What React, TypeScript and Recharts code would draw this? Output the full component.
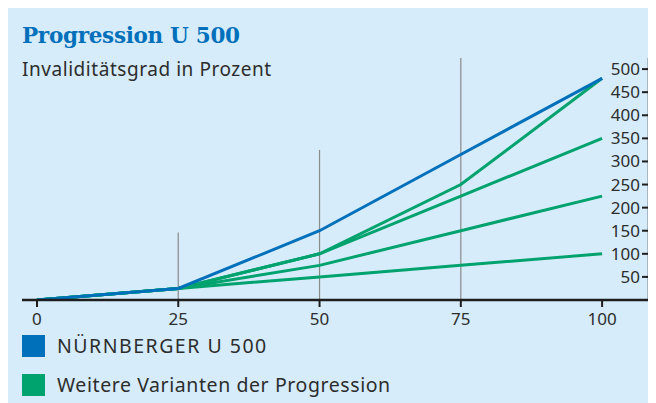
import React, { useLayoutEffect } from 'react';
import { LineChart, Line, XAxis, YAxis, ReferenceLine } from 'recharts';

// Invaliditätsgrad (x) categories
const xValues = [0, 25, 50, 75, 100];
// Series values
const nuernbergerU500 = [0, 25, 150, 315, 480];
const variante1 = [0, 25, 100, 250, 480];
const variante2 = [0, 25, 100, 225, 350];
const variante3 = [0, 25, 75, 150, 225];
const variante4 = [0, 25, 50, 75, 100];
// Axis ticks
const yTicks = [50, 100, 150, 200, 250, 300, 350, 400, 450, 500];
const xDomain: [number, number] = [-2.65, 108.3];
const yDomain: [number, number] = [0, 524];
// Vertical guide lines (x position, height)
const guideX = [25, 50, 75];
const guideTop = [146, 325, 524];

const BLUE = '#0070bb';
const GREEN = '#00a36e';
const TEXT = '#2d2d2d';
const FONT = '"Noto Sans", "Open Sans", sans-serif';

const data = xValues.map((x, i) => ({
  x,
  nu: nuernbergerU500[i],
  v1: variante1[i],
  v2: variante2[i],
  v3: variante3[i],
  v4: variante4[i],
}));

export default function App() {
  useLayoutEffect(() => {
    document.documentElement.style.overflow = 'hidden';
    document.body.style.overflow = 'hidden';
  }, []);

  const xTicks = [...xValues, xDomain[1]];

  return (
    <div style={{ position: 'relative', width: 648, height: 395, background: '#d6ecfa', fontFamily: FONT }}>
      <div style={{ position: 'absolute', left: 14, top: 14, fontFamily: '"DejaVu Serif", serif', fontWeight: 'bold', fontSize: 21.5, color: BLUE, lineHeight: '28px', letterSpacing: -0.3 }}>
        Progression U 500
      </div>
      <div style={{ position: 'absolute', left: 14, top: 48, fontSize: 19, color: TEXT, lineHeight: '26px', letterSpacing: 0.55 }}>
        Invaliditätsgrad in Prozent
      </div>
      <div style={{ position: 'absolute', left: 0, top: 0 }}>
        <LineChart width={648} height={395} data={data} margin={{ top: 50, right: 7, bottom: 73, left: 14 }}>
          <XAxis
            dataKey="x"
            type="number"
            domain={xDomain}
            ticks={xTicks}
            allowDataOverflow
            interval={0}
            height={30}
            tickSize={7}
            tickMargin={6}
            tickFormatter={(v: number) => (xValues.includes(v) ? String(v) : '')}
            axisLine={{ stroke: '#1e1e1e', strokeWidth: 2.5 }}
            tickLine={{ stroke: '#1e1e1e', strokeWidth: 2 }}
            tick={{ fill: TEXT, fontSize: 17, fontFamily: FONT }}
          />
          <YAxis
            orientation="right"
            mirror
            width={60}
            type="number"
            domain={yDomain}
            ticks={yTicks}
            interval={0}
            allowDataOverflow
            tickSize={7}
            tickMargin={2}
            axisLine={{ stroke: '#1e1e1e', strokeWidth: 2.5 }}
            tickLine={{ stroke: '#1e1e1e', strokeWidth: 2 }}
            tick={{ fill: TEXT, fontSize: 17, fontFamily: FONT }}
          />
          {guideX.map((gx, i) => (
            <ReferenceLine
              key={gx}
              segment={[{ x: gx, y: 0 }, { x: gx, y: guideTop[i] }]}
              stroke="#8a8a8a"
              strokeWidth={1.2}
              ifOverflow="visible"
            />
          ))}
          <Line type="linear" dataKey="v4" stroke={GREEN} strokeWidth={3} dot={false} isAnimationActive={false} />
          <Line type="linear" dataKey="v3" stroke={GREEN} strokeWidth={3} dot={false} isAnimationActive={false} />
          <Line type="linear" dataKey="v2" stroke={GREEN} strokeWidth={3} dot={false} isAnimationActive={false} />
          <Line type="linear" dataKey="v1" stroke={GREEN} strokeWidth={3} dot={false} isAnimationActive={false} />
          <Line type="linear" dataKey="nu" stroke={BLUE} strokeWidth={3} dot={false} isAnimationActive={false} />
        </LineChart>
      </div>
      <div style={{ position: 'absolute', left: 14, top: 324, display: 'flex', alignItems: 'center' }}>
        <div style={{ width: 23, height: 22, background: BLUE }} />
        <span style={{ marginLeft: 12, fontSize: 19.5, color: TEXT, letterSpacing: 1.5 }}>NÜRNBERGER U 500</span>
      </div>
      <div style={{ position: 'absolute', left: 14, top: 363, display: 'flex', alignItems: 'center' }}>
        <div style={{ width: 23, height: 22, background: GREEN }} />
        <span style={{ marginLeft: 12, fontSize: 19.5, color: TEXT, letterSpacing: 0.58 }}>Weitere Varianten der Progression</span>
      </div>
    </div>
  );
}
